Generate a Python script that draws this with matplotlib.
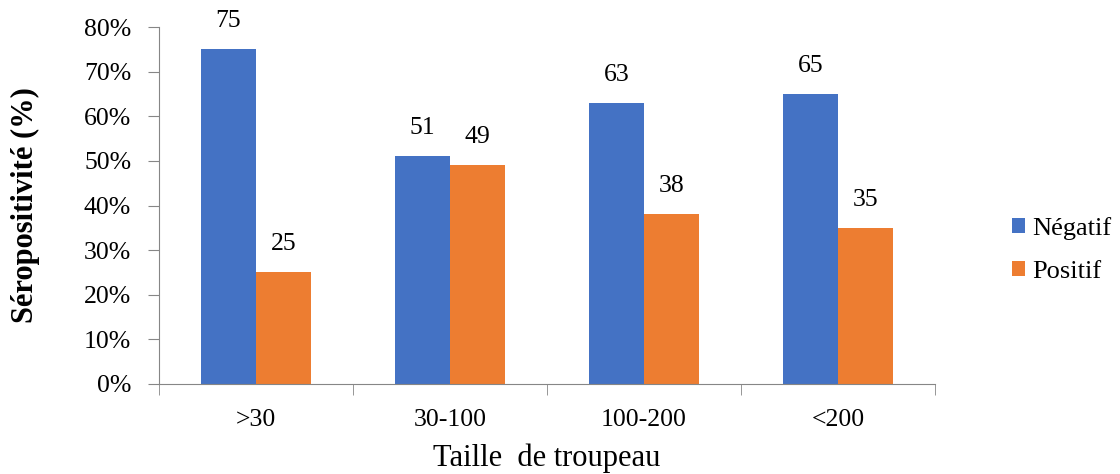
import matplotlib.pyplot as plt
import numpy as np

categories = ['>30', '30-100', '100-200', '<200']
negatif = [75, 51, 63, 65]
positif = [25, 49, 38, 35]
yticks = [0, 10, 20, 30, 40, 50, 60, 70, 80]

plt.rcParams['font.family'] = ['Liberation Serif', 'DejaVu Serif']

fig = plt.figure(figsize=(11.2, 4.74), dpi=100)
ax = fig.add_axes([159 / 1120, 90 / 474, 776 / 1120, 357 / 474])

x = np.arange(len(categories))
w = 0.284
b1 = ax.bar(x - w / 2, negatif, w, color='#4472C4', label='Négatif')
b2 = ax.bar(x + w / 2, positif, w, color='#ED7D31', label='Positif')

for bars in (b1, b2):
    for bar in bars:
        h = bar.get_height()
        ax.text(bar.get_x() + bar.get_width() / 2, h + 3.8, f'{h:g}',
                ha='center', va='bottom', fontsize=18.5)

ax.set_xlim(-0.5, len(categories) - 0.5)
ax.set_ylim(0, 80)
ax.set_yticks(yticks)
ax.set_yticklabels([f'{v}%' for v in yticks], fontsize=18.5)

# category labels centred, tick marks on the boundaries
ax.set_xticks(x)
ax.set_xticklabels(categories, fontsize=18.5)
ax.tick_params(axis='x', which='major', length=0, pad=18)
ax.set_xticks(np.arange(-0.5, len(categories)), minor=True)
ax.tick_params(axis='x', which='minor', length=8, color='#868686', direction='out')
ax.tick_params(axis='y', length=8, color='#868686', direction='out', pad=12)

for side in ('top', 'right'):
    ax.spines[side].set_visible(False)
for side in ('left', 'bottom'):
    ax.spines[side].set_color('#868686')

ax.set_xlabel('Taille  de troupeau', fontsize=22, labelpad=9)
ax.set_ylabel('Séropositivité (%)', fontsize=22, fontweight='bold', labelpad=32)

fig.legend(handles=[b1, b2], loc='center left', bbox_to_anchor=(1012 / 1120, 1 - 250 / 474),
           frameon=False, fontsize=19, handlelength=0.5, handleheight=0.5,
           handletextpad=0.28, labelspacing=0.82, borderpad=0, borderaxespad=0)

fig.savefig('out.png', dpi=100)
